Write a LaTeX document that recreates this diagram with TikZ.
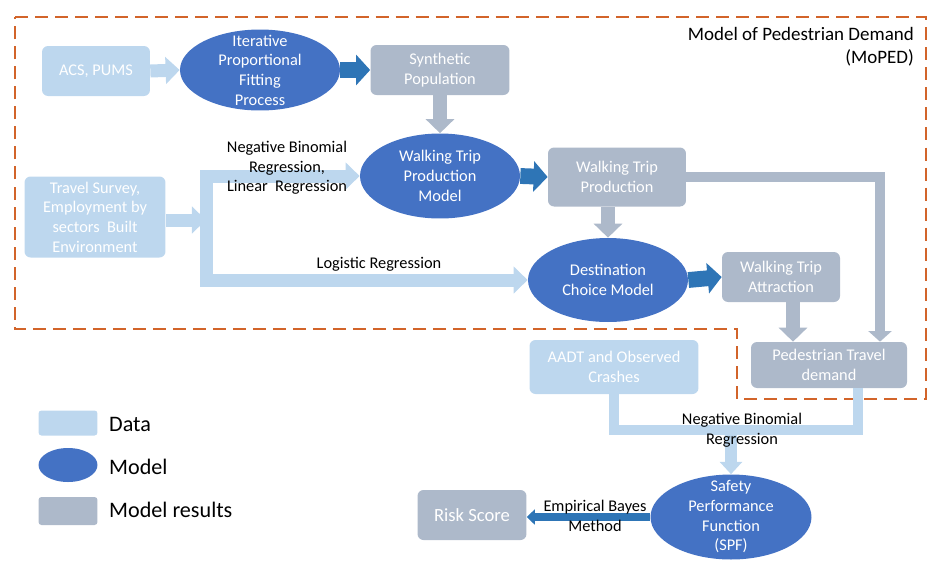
\documentclass[tikz,border=0pt]{standalone}
\usepackage{fontspec}
\setmainfont{Carlito}
\usepackage{xcolor}
\usepackage{tikz}
\usetikzlibrary{arrows.meta,shapes.geometric}

\definecolor{databl}{HTML}{BDD7EE}
\definecolor{modelbl}{HTML}{4472C4}
\definecolor{resgrey}{HTML}{ADB9CA}
\definecolor{arrowbl}{HTML}{2E75B6}
\definecolor{mopedor}{HTML}{D2642A}

\newcommand{\boxfont}{\fontsize{9.3}{11.2}\selectfont}
\newcommand{\legfont}{\fontsize{12.6}{15}\selectfont}
\newcommand{\titlefont}{\fontsize{10.8}{13}\selectfont}

\begin{document}
\begin{tikzpicture}[x=0.02cm,y=-0.02cm]
		\tikzstyle{data}=[fill=databl, rounded corners=1.2mm, inner sep=0pt, text=white, align=center, font=\boxfont]
		\tikzstyle{result}=[data, fill=resgrey]
		\tikzstyle{model}=[ellipse, fill=modelbl, inner sep=0pt]
		\tikzstyle{model_text}=[text=white, align=center, font=\boxfont]
		\tikzstyle{edge_text}=[text=black, align=center, font=\boxfont]
		\tikzstyle{legend_text}=[anchor=west, font=\legfont]
		\tikzstyle{data_arrow}=[draw=databl, line width=7.4pt, -{Triangle[width=15pt,length=8pt]}]
		\tikzstyle{data_line}=[draw=databl, line width=6pt]
		\tikzstyle{model_arrow}=[draw=arrowbl, line width=9pt, -{Triangle[width=17pt,length=8pt]}]
		\tikzstyle{result_arrow}=[draw=resgrey, line width=7.6pt, -{Triangle[width=16pt,length=8pt]}]
		\tikzstyle{moped_box}=[draw=mopedor, line width=1.1pt, dash pattern=on 7.4pt off 4pt]

		\useasboundingbox (0,0) rectangle (952,572);

		\draw[moped_box] (15,17) -- (926,17) -- (926,399) -- (737,399) -- (737,329) -- (15,329) -- cycle;
		\node (title) [anchor=east, align=right, font=\titlefont] at (920,47) {Model of Pedestrian Demand\\(MoPED)};

		\node [data, minimum width=2.16cm, minimum height=1cm] (acs) at (96,71) {ACS, PUMS};
		\node [model, minimum width=3.2cm, minimum height=1.62cm] (ipf) at (260,70) {};
		\node [model_text] (ipf-t) at (ipf) {Iterative\\Proportional\\Fitting\\Process};
		\node [result, minimum width=2.78cm, minimum height=1cm] (synpop) at (440,70) {Synthetic\\Population};

		\node [model, minimum width=3.2cm, minimum height=1.7cm] (tripgen) at (440,176) {};
		\node [model_text] (tripgen-t) at (tripgen) {Walking Trip\\Production\\Model};
		\node [result, minimum width=2.76cm, minimum height=1.18cm] (tripprod) at (617,177) {Walking Trip\\Production};
		\node [data, minimum width=2.82cm, minimum height=1.62cm] (survey) at (95,217) {Travel Survey,\\Employment by\\sectors~~Built\\Environment};

		\node [model, minimum width=3.2cm, minimum height=1.68cm] (destchoice) at (608,280) {};
		\node [model_text] (destchoice-t) at (destchoice) {Destination\\Choice Model};
		\node [result, minimum width=2.36cm, minimum height=1cm] (attr) at (781,277) {Walking Trip\\Attraction};

		\node [result, minimum width=3.12cm, minimum height=0.92cm] (peddemand) at (829,365) {Pedestrian Travel\\demand};
		\node [data, minimum width=3.38cm, minimum height=1.08cm] (aadt) at (614,367) {AADT and Observed\\Crashes};

		\node [model, minimum width=3.22cm, minimum height=1.7cm] (spf) at (731,517) {};
		\node [model_text] (spf-t) at (spf) {Safety\\Performance\\Function\\(SPF)};
		\node [result, minimum width=2.18cm, minimum height=1cm, font=\fontsize{10.6}{12}\selectfont] (risk) at (472,515) {Risk Score};

		\coordinate (fork) at (206,220);
		\coordinate (prodturn) at (880,0);
		\coordinate (attrdown) at (793,0);
		\coordinate (nbjoin) at (731,430);
		\coordinate (pedturn) at (858,0);

		\draw[data_arrow] (acs.east) -- (ipf.west);
		\draw[model_arrow] (ipf.east) -- (synpop.west);
		\draw[result_arrow] (synpop.south) -- (tripgen.north);

		\draw[data_arrow] (survey.east |- fork) -- (fork);
		\draw[data_arrow] (fork) |- (tripgen.west);
		\draw[data_arrow] (fork) |- (destchoice.west);

		\draw[model_arrow] (tripgen.east) -- (tripprod.west);
		\draw[result_arrow] (destchoice.north |- tripprod.south) -- (destchoice.north);
		\draw[model_arrow] (destchoice.east) -- (attr.west);
		\draw[result_arrow] (attrdown |- attr.south) -- (attrdown |- peddemand.north);
		\draw[draw=resgrey, line width=5.7pt, -{Triangle[width=13pt,length=6pt]}] (tripprod.east) -| (prodturn |- peddemand.north);

		\draw[data_line] (aadt.south) |- (nbjoin) -| (pedturn |- peddemand.south);
		\draw[draw=databl, line width=6.8pt, -{Triangle[width=12.5pt,length=7pt]}] (nbjoin) -- (spf.north);
		\draw[draw=arrowbl, line width=4pt, -{Triangle[width=8.5pt,length=4.5pt]}] (spf.west) -- (risk.east |- spf.west);

		\node [edge_text] (nb-lbl) at (287,168) {Negative Binomial\\Regression,\\Linear~~Regression};
		\node [edge_text] (logit-lbl) at (379,264) {Logistic Regression};
		\node [edge_text] (nb2-lbl) at (742,430) {Negative Binomial\\Regression};
		\node [edge_text] (eb-lbl) at (595,516) {Empirical Bayes\\Method};

		\node [data, rounded corners=0.6mm, minimum width=1.18cm, minimum height=0.5cm] (leg-data) at (68,423) {};
		\node [legend_text] (leg-data-t) at (103,424) {Data};
		\node [model, minimum width=1.18cm, minimum height=0.68cm] (leg-model) at (68,465) {};
		\node [legend_text] (leg-model-t) at (103,467) {Model};
		\node [result, rounded corners=0.6mm, minimum width=1.18cm, minimum height=0.56cm] (leg-result) at (68,511) {};
		\node [legend_text] (leg-result-t) at (103,510) {Model results};
	\end{tikzpicture}
\end{document}
